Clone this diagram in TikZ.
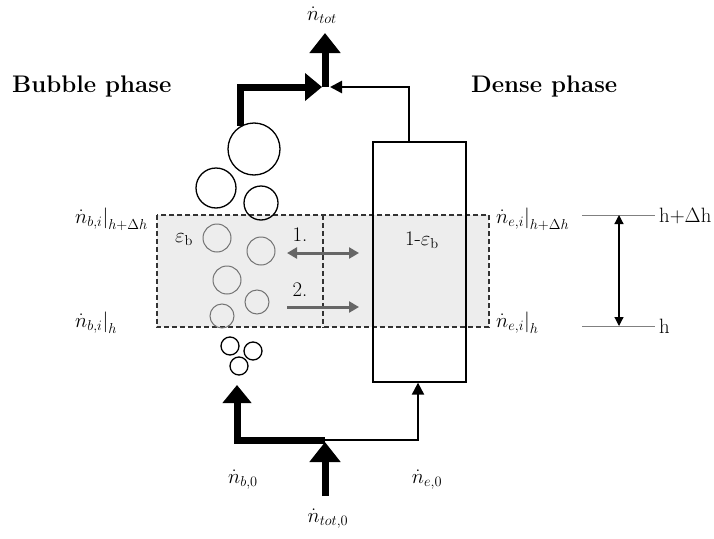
\documentclass[tikz,border=0pt]{standalone}
\usepackage{fontspec}
\usetikzlibrary{arrows.meta,calc}
\begin{document}
\begin{tikzpicture}[x=1pt,y=-1pt,
  every node/.style={font=\fontsize{20.74}{24}\selectfont},
  lbl/.style={inner sep=1pt},
  title/.style={font=\fontsize{24}{26}\selectfont\bfseries, inner sep=0pt, anchor=base west},
  bubble/.style={circle, draw, line width=1.3pt, inner sep=0pt, minimum size=#1},
  ibubble/.style={circle, draw=black!55, line width=1pt, inner sep=0pt, minimum size=#1},
  thickflow/.style={line width=7pt, line join=miter, -{Triangle[length=17pt,width=27pt]}},
  thickup/.style={line width=7pt, -{Triangle[length=20pt,width=30pt]}},
  thinflow/.style={line width=2.6pt, line join=miter, -{Triangle[length=12pt,width=12pt]}},
  grayarrow/.style={line width=3pt, draw=black!60, {Triangle[length=10pt,width=11pt,fill=black!60]}-{Triangle[length=10pt,width=11pt,fill=black!60]}},
  grayarrowr/.style={line width=3pt, draw=black!60, -{Triangle[length=10pt,width=11pt,fill=black!60]}},
  cell/.style={draw=black!80, dash pattern=on 5pt off 3pt, line width=1.5pt},
  hline/.style={draw=black!50, line width=1pt},
  dim/.style={line width=1.2pt, {Triangle[length=9pt,width=9pt]}-{Triangle[length=9pt,width=9pt]}}
]
\useasboundingbox (0,0) rectangle (714,538);

% titles
\node[title] (tb) at (12,92) {Bubble phase};
\node[title] (td) at (471,92) {Dense phase};

% dashed control volume
\path[fill=black!7] (157,215) rectangle (489,327);
\node[draw=none, minimum width=332pt, minimum height=112pt, inner sep=0pt] (cv) at (323,271) {};
\draw[cell] (cv.north west) rectangle (cv.south east);
\draw[cell] (cv.north) -- (cv.south);

% dense phase column
\node[draw, line width=1.3pt, minimum width=93pt, minimum height=240pt, inner sep=0pt] (dense) at (419.5,262) {};

% bubbles above
\node[bubble=52pt] (b1) at (254,149) {};
\node[bubble=40pt] (b2) at (216,188) {};
\node[bubble=34pt] (b3) at (261,203) {};
% bubbles inside
\node[ibubble=28pt] (c1) at (217,238) {};
\node[ibubble=28pt] (c2) at (261,251) {};
\node[ibubble=28pt] (c3) at (227,280) {};
\node[ibubble=24pt] (c4) at (257,302) {};
\node[ibubble=24pt] (c5) at (222,316) {};
% small bubbles below
\node[bubble=18pt] (s1) at (230,346) {};
\node[bubble=18pt] (s2) at (253,351) {};
\node[bubble=18pt] (s3) at (239,366) {};

% labels
\node[lbl] (ntot) at (322,15) {$\dot{n}_{tot}$};
\node[lbl] (nb0) at (243,480) {$\dot{n}_{b,0}$};
\node[lbl] (ne0) at (427,480) {$\dot{n}_{e,0}$};
\node[lbl] (ntot0) at (328,519) {$\dot{n}_{tot,0}$};
\node[lbl, anchor=west] (nbt) at (74,219) {$\dot{n}_{b,i}\Big|_{h+\Delta h}$};
\node[lbl, anchor=west] (nbb) at (74,323) {$\dot{n}_{b,i}\Big|_{h}$};
\node[lbl, anchor=west] (net) at (495,219) {$\dot{n}_{e,i}\Big|_{h+\Delta h}$};
\node[lbl, anchor=west] (neb) at (495,323) {$\dot{n}_{e,i}\Big|_{h}$};
\node[lbl] (eb) at (184,240) {$\varepsilon_{\mathrm{b}}$};
\node[lbl] (eeb) at (422,240) {1-$\varepsilon_{\mathrm{b}}$};
\node[lbl] (one) at (300,235) {1.};
\node[lbl] (two) at (300,290) {2.};

% top junction
\coordinate (jn) at (325,87);
\coordinate (jl) at (322,87);
\coordinate (jr) at (330,87);
\coordinate (dx) at (409,0);
\coordinate (ttip) at (325,33);
\draw[thickflow] (b1.120) |- (jl);
\draw[thinflow] (dense.north -| dx) |- (jr);
\draw[thickup] (jn) -- (ttip);

% bottom junction
\coordinate (bj) at (325,440);
\coordinate (btip) at (237,385);
\coordinate (bx) at (418,0);
\coordinate (bs) at (325,496);
\coordinate (bjt) at (325,442);
\draw[line width=7pt, line join=miter, -{Triangle[length=18pt,width=28pt]}] (bj) -| (btip);
\draw[thinflow, line width=2.2pt] (bj) -| (dense.south -| bx);
\draw[thickup] (bs) -- (bjt);

% exchange arrows
\coordinate (a1l) at (287,253);
\coordinate (a1r) at (359,253);
\coordinate (a2l) at (287,307);
\coordinate (a2r) at (359,307);
\draw[grayarrow] (a1l) -- (a1r);
\draw[grayarrowr] (a2l) -- (a2r);

% height marker
\coordinate (ht1) at (582,215);
\coordinate (ht2) at (655,215);
\coordinate (hb1) at (582,326);
\coordinate (hb2) at (655,326);
\draw[hline] (ht1) -- (ht2);
\draw[hline] (hb1) -- (hb2);
\node[lbl, anchor=west] (hdh) at (658,216) {h+$\Delta$h};
\node[lbl, anchor=west] (hh) at (658,326) {h};
\draw[dim] (619,215) -- (619,326);
\end{tikzpicture}
\end{document}
